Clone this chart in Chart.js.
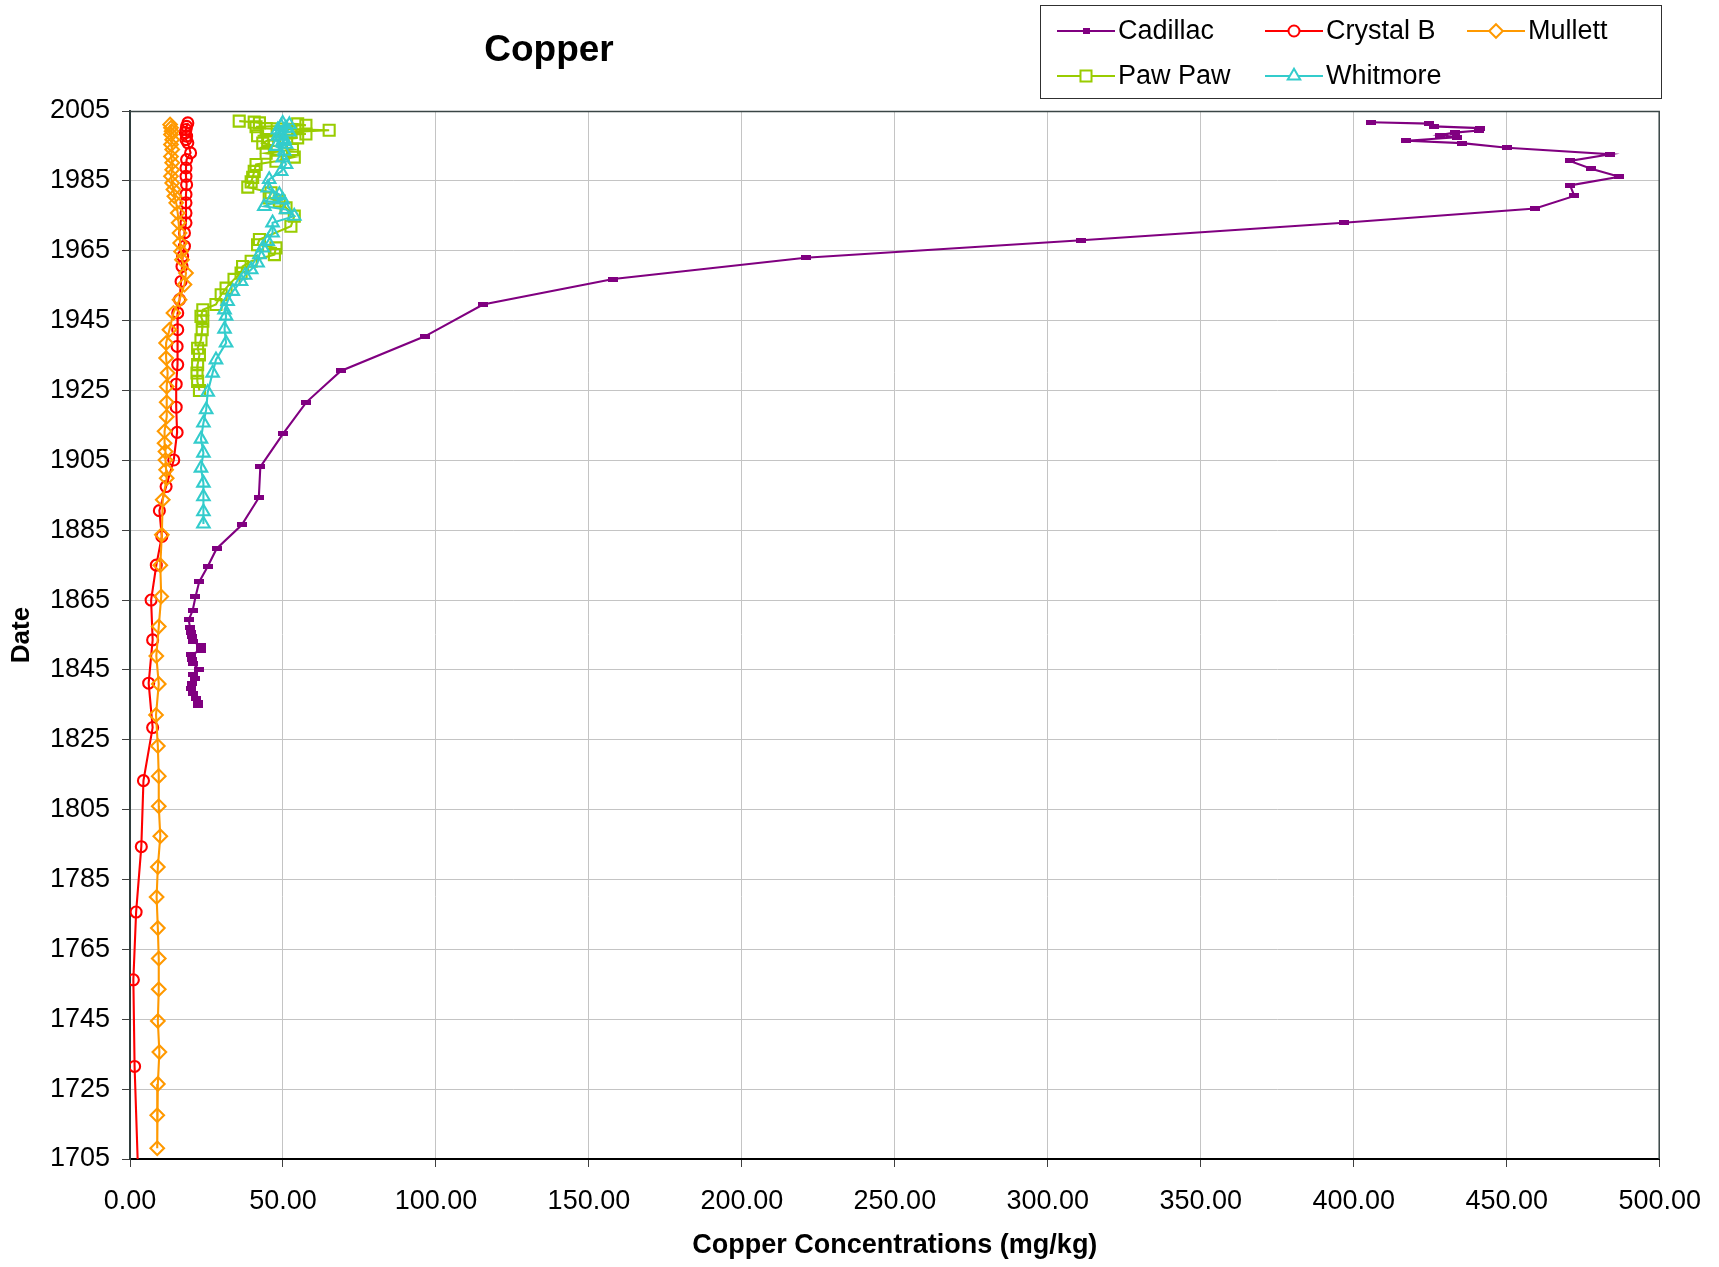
<!DOCTYPE html>
<html>
<head>
<meta charset="utf-8">
<title>Copper</title>
<script src="https://cdn.jsdelivr.net/npm/chart.js@4.4.1/dist/chart.umd.min.js"></script>
<style>
  html, body { margin: 0; padding: 0; background: #ffffff; }
  #wrap { position: relative; width: 1719px; height: 1267px; }
</style>
</head>
<body>
<div id="wrap"><canvas id="chart" width="1719" height="1267"></canvas></div>
<script>
// ---- data: sediment-core copper concentrations (mg/kg) against estimated date ----
const seriesNames  = ['Cadillac', 'Crystal B', 'Mullett', 'Paw Paw', 'Whitmore'];
const seriesColors = ['#800080', '#FF0000', '#FF9900', '#99CC00', '#33CCCC'];

const cadillacYear = [2001.8, 2001.4, 2000.6, 2000.1, 1999.4, 1998.8, 1998.1, 1997.5, 1996.5, 1995.8,
  1994.5, 1992.6, 1990.7, 1988.5, 1986.2, 1983.7, 1980.7, 1977.1, 1973.0, 1968.0,
  1963.0, 1956.9, 1949.6, 1940.5, 1930.6, 1921.6, 1912.6, 1903.1, 1894.3, 1886.5,
  1879.7, 1874.6, 1870.2, 1865.9, 1862.1, 1859.3, 1857.2, 1855.8, 1854.5, 1853.1,
  1851.9, 1850.7, 1849.3, 1848.0, 1846.7, 1845.2, 1843.7, 1842.6, 1841.2, 1839.7,
  1838.3, 1836.9, 1835.6, 1834.7];
const cadillacCu = [405.7, 424.6, 426.2, 441.1, 440.8, 433.0, 428.1, 433.8, 417.2, 435.4,
  450.1, 483.9, 470.6, 477.6, 486.8, 470.7, 472.1, 459.3, 396.7, 311.0,
  220.8, 158.0, 115.4, 96.4, 68.9, 57.6, 50.0, 42.6, 42.1, 36.5,
  28.3, 25.4, 22.6, 21.4, 20.5, 19.2, 19.6, 20.0, 20.2, 20.5,
  23.2, 23.2, 20.0, 20.3, 20.7, 22.5, 20.5, 21.1, 20.2, 20.0,
  20.5, 21.6, 22.1, 22.1];

const crystalYear = [2001.6, 2000.6, 1999.7, 1998.8, 1997.8, 1996.8, 1995.9, 1993.0, 1991.1, 1988.7,
  1986.3, 1983.9, 1981.1, 1978.7, 1975.8, 1973.0, 1970.1, 1966.3, 1963.4, 1960.5,
  1956.2, 1951.0, 1947.2, 1942.4, 1937.6, 1932.4, 1926.8, 1920.2, 1913.0, 1905.1,
  1897.5, 1890.6, 1883.2, 1875.0, 1865.0, 1853.6, 1841.2, 1828.5, 1813.3, 1794.4,
  1775.7, 1756.3, 1731.5, 1697.0];
const crystalCu = [18.9, 18.5, 18.3, 18.1, 18.5, 18.3, 18.9, 19.8, 18.5, 18.3,
  18.3, 18.5, 18.3, 18.3, 18.3, 18.3, 17.8, 17.8, 17.2, 17.0,
  16.7, 16.2, 15.6, 15.6, 15.4, 15.6, 15.1, 15.1, 15.4, 14.3,
  11.8, 9.6, 10.4, 8.6, 6.9, 7.4, 6.1, 7.4, 4.4, 3.7,
  2.0, 1.1, 1.5, 2.8];

const mullettYear = [2001.1, 2000.2, 1999.2, 1998.3, 1996.8, 1995.4, 1994.0, 1992.0, 1990.2, 1988.2,
  1986.3, 1984.4, 1982.5, 1980.6, 1978.7, 1975.8, 1973.0, 1970.1, 1967.2, 1964.8,
  1962.4, 1958.6, 1955.3, 1951.0, 1947.2, 1942.4, 1938.6, 1934.3, 1930.0, 1926.1,
  1921.6, 1917.5, 1913.3, 1909.9, 1907.5, 1905.1, 1902.3, 1899.9, 1893.7, 1883.7,
  1875.0, 1866.0, 1857.4, 1849.0, 1841.0, 1832.1, 1823.2, 1814.6, 1806.0, 1797.4,
  1788.6, 1780.0, 1771.1, 1762.4, 1753.6, 1744.5, 1735.6, 1726.5, 1717.5, 1708.1];
const mullettCu = [13.1, 13.4, 13.6, 13.4, 13.8, 13.4, 13.8, 13.4, 13.8, 13.8,
  13.4, 13.8, 14.2, 14.5, 15.1, 15.6, 15.9, 16.2, 16.4, 16.7,
  17.0, 18.3, 17.8, 16.2, 14.2, 12.9, 11.8, 11.8, 12.3, 12.0,
  12.0, 12.0, 11.3, 11.3, 11.6, 11.6, 11.8, 12.0, 10.7, 10.4,
  9.9, 10.2, 9.4, 8.6, 9.4, 8.5, 9.1, 9.4, 9.4, 9.9,
  9.1, 8.7, 9.1, 9.4, 9.4, 9.1, 9.6, 9.1, 8.9, 8.9];

const pawpawYear = [2002.1, 2001.8, 2001.6, 2001.3, 2000.9, 2000.5, 2000.0, 1999.5, 1999.0, 1998.4,
  1997.9, 1997.3, 1996.6, 1995.8, 1995.0, 1994.0, 1992.9, 1991.8, 1990.6, 1989.7,
  1987.7, 1986.0, 1984.7, 1983.2, 1981.6, 1980.1, 1979.2, 1977.3, 1974.9, 1972.0,
  1968.2, 1966.7, 1965.8, 1963.9, 1962.0, 1960.5, 1958.6, 1956.8, 1954.3, 1952.4,
  1949.6, 1948.1, 1946.2, 1944.8, 1942.4, 1939.5, 1937.1, 1935.2, 1932.4, 1930.0,
  1927.6, 1925.0];
const pawpawCu = [35.7, 40.6, 42.3, 54.8, 57.5, 41.2, 44.5, 65.1, 52.6, 57.5,
  41.7, 54.8, 45.0, 43.4, 47.2, 53.1, 44.5, 53.7, 47.7, 41.2,
  40.6, 40.1, 39.6, 38.5, 46.1, 45.5, 48.8, 51.0, 53.7, 52.6,
  42.3, 41.7, 47.7, 47.2, 39.6, 36.8, 36.3, 34.0, 31.4, 29.8,
  28.1, 23.8, 23.2, 23.8, 23.6, 23.2, 22.1, 22.7, 22.1, 21.9,
  22.1, 22.7];

const whitmoreYear = [2001.5, 2001.1, 2000.6, 2000.1, 1999.6, 1999.0, 1998.4, 1997.8, 1996.9, 1996.3,
  1995.5, 1994.9, 1993.5, 1991.6, 1989.7, 1987.7, 1985.4, 1983.0, 1981.1, 1980.1,
  1979.6, 1977.7, 1976.8, 1974.9, 1973.0, 1970.1, 1967.7, 1965.8, 1963.9, 1961.5,
  1959.6, 1958.0, 1956.2, 1953.4, 1950.5, 1948.1, 1946.3, 1942.6, 1938.6, 1933.8,
  1930.0, 1924.5, 1919.5, 1915.7, 1911.1, 1907.1, 1902.8, 1898.5, 1894.6, 1890.3,
  1886.8];
const whitmoreCu = [49.9, 52.1, 49.4, 51.0, 48.3, 52.1, 49.4, 48.3, 50.4, 49.9,
  51.0, 47.7, 50.4, 49.9, 51.0, 49.4, 45.5, 45.0, 48.8, 46.6,
  49.9, 43.9, 51.0, 53.7, 46.6, 46.6, 45.0, 43.4, 42.3, 41.7,
  39.6, 37.6, 36.3, 33.6, 31.9, 30.9, 31.4, 30.9, 31.4, 28.1,
  27.0, 25.4, 24.9, 24.0, 23.2, 24.0, 23.2, 24.0, 24.0, 24.0,
  24.0];

// axis ranges and tick spacing
const cuRange   = [0, 500];
const cuStep    = 50;
const yearRange = [1705, 2005];
const yearStep  = 20;

// ---- marker images for the Cadillac series (short dash on the plot, small block in the key) ----
function blockMarker(w, h, color) {
  const c = document.createElement('canvas');
  c.width = w; c.height = h;
  const g = c.getContext('2d');
  g.fillStyle = color;
  g.fillRect(0, 0, w, h);
  return c;
}
const cadillacDash = blockMarker(10, 5, seriesColors[0]);
const cadillacKey  = blockMarker(7, 6, seriesColors[0]);

function pairs(years, values) {
  return years.map((y, i) => ({ x: values[i], y: y }));
}

const seriesData = [
  pairs(cadillacYear, cadillacCu),
  pairs(crystalYear, crystalCu),
  pairs(mullettYear, mullettCu),
  pairs(pawpawYear, pawpawCu),
  pairs(whitmoreYear, whitmoreCu)
];
const markerStyles = [
  { pointStyle: cadillacDash, radius: 5, keyStyle: cadillacKey },
  { pointStyle: 'circle',   radius: 5.5 },
  { pointStyle: 'rectRot',  radius: 6.8 },
  { pointStyle: 'rect',     radius: 7.8 },
  { pointStyle: 'triangle', radius: 7.2 }
];

const datasets = seriesNames.map((name, i) => ({
  label: name,
  data: seriesData[i],
  showLine: true,
  tension: 0,
  borderColor: seriesColors[i],
  borderWidth: 2.1,
  backgroundColor: 'rgba(0,0,0,0)',
  pointStyle: markerStyles[i].pointStyle,
  pointRadius: markerStyles[i].radius,
  pointHoverRadius: markerStyles[i].radius,
  pointBorderColor: seriesColors[i],
  pointBackgroundColor: 'rgba(0,0,0,0)',
  pointBorderWidth: 2.1,
  order: seriesNames.length - i,
  clip: 0
}));

const FONT = '"Liberation Sans", Arial, Helvetica, sans-serif';

// title, plot frame and the boxed key
const decorations = {
  id: 'decorations',
  afterDraw(chart) {
    const ctx = chart.ctx;
    const area = chart.chartArea;
    ctx.save();

    // frame on the top and right edges of the plot
    ctx.strokeStyle = '#3a4646';
    ctx.lineWidth = 1.5;
    ctx.beginPath();
    ctx.moveTo(area.left, area.top + 0.5);
    ctx.lineTo(area.right - 0.5, area.top + 0.5);
    ctx.lineTo(area.right - 0.5, area.bottom);
    ctx.stroke();

    // chart title
    ctx.fillStyle = '#000000';
    ctx.font = 'bold 37px ' + FONT;
    ctx.textAlign = 'center';
    ctx.textBaseline = 'middle';
    ctx.fillText('Copper', 549, 51);

    // key box
    ctx.strokeStyle = '#303030';
    ctx.lineWidth = 1;
    ctx.strokeRect(1040.5, 5.5, 621, 93);

    const colX = [1057, 1265, 1467];
    const rowY = [31, 76];
    const sampleLen = 58;
    ctx.font = '27px ' + FONT;
    ctx.textAlign = 'left';
    chart.data.datasets.forEach((ds, i) => {
      const x = colX[i % 3];
      const y = rowY[Math.floor(i / 3)];
      ctx.strokeStyle = ds.borderColor;
      ctx.lineWidth = 2;
      ctx.beginPath();
      ctx.moveTo(x, y);
      ctx.lineTo(x + sampleLen, y);
      ctx.stroke();
      ctx.fillStyle = '#ffffff';
      ctx.strokeStyle = ds.borderColor;
      ctx.lineWidth = 2;
      Chart.helpers.drawPoint(ctx, {
        pointStyle: markerStyles[i].keyStyle || ds.pointStyle,
        radius: ds.pointRadius,
        rotation: 0,
        borderWidth: 2
      }, x + sampleLen / 2, y);
      ctx.fillStyle = '#000000';
      ctx.fillText(ds.label, x + sampleLen + 3, y + 1);
    });
    ctx.restore();
  }
};

new Chart(document.getElementById('chart'), {
  type: 'scatter',
  data: { datasets: datasets },
  plugins: [decorations],
  options: {
    responsive: false,
    animation: false,
    devicePixelRatio: 1,
    layout: { padding: { left: 0, top: 111, right: 57, bottom: 0 } },
    plugins: {
      legend: { display: false },
      title: { display: false },
      tooltip: { enabled: false }
    },
    scales: {
      x: {
        type: 'linear',
        position: 'bottom',
        min: cuRange[0],
        max: cuRange[1],
        afterFit(scale) { scale.height = 108; },
        ticks: {
          stepSize: cuStep,
          padding: 18,
          color: '#000000',
          font: { family: FONT, size: 27 },
          callback: (v) => Number(v).toFixed(2)
        },
        grid: { color: '#c4c4c4', lineWidth: 1, tickColor: '#404040', tickLength: 8 },
        border: { color: '#000000', width: 2 },
        title: {
          display: true,
          text: 'Copper Concentrations (mg/kg)',
          color: '#000000',
          font: { family: FONT, size: 27, weight: 'bold' },
          padding: { top: 0, bottom: 5 }
        }
      },
      y: {
        type: 'linear',
        position: 'left',
        min: yearRange[0],
        max: yearRange[1],
        afterFit(scale) { scale.width = 130; },
        ticks: {
          stepSize: yearStep,
          padding: 12,
          color: '#000000',
          font: { family: FONT, size: 27 },
          callback: (v) => String(v)
        },
        grid: { color: '#c4c4c4', lineWidth: 1, tickColor: '#404040', tickLength: 8 },
        border: { color: '#2f3d3d', width: 2 },
        title: {
          display: true,
          text: 'Date',
          color: '#000000',
          font: { family: FONT, size: 26, weight: 'bold' },
          padding: { top: 6, bottom: 0 }
        }
      }
    }
  }
});
</script>
</body>
</html>
